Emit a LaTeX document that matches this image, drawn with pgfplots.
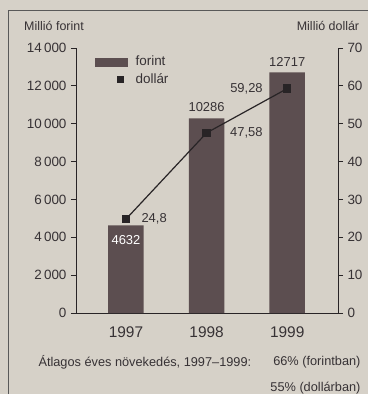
\documentclass[border=0pt]{standalone}
\usepackage{pgfplots}
\pgfplotsset{compat=1.18}
\usepackage{fontspec}
\setmainfont{Liberation Sans}
\definecolor{bgc}{RGB}{214,209,200}
\definecolor{barc}{RGB}{92,78,80}
\definecolor{textc}{RGB}{55,50,53}
\definecolor{linec}{RGB}{40,36,38}
\begin{document}
\begin{tikzpicture}[x=1bp,y=1bp]
\fill[bgc,use as bounding box] (-76,313) rectangle (292,-81);
\draw[gray!70!black,line width=0.8bp] (-68,303) -- (292,303);
\draw[gray!70!black,line width=0.8bp] (-68,303) -- (-68,-81);
\begin{axis}[
  scale only axis, width=262bp, height=265bp,
  at={(0,0)}, anchor=south west,
  xmin=-0.62, xmax=2.63, ymin=0, ymax=14000,
  axis y line*=left, axis x line*=bottom,
  axis line style={-, draw=linec, line width=0.8bp},
  ytick={0,2000,...,14000},
  yticklabels={0,2\,000,4\,000,6\,000,8\,000,10\,000,12\,000,14\,000},
  scaled y ticks=false,
  xtick={0,1,2}, xticklabels={1997,1998,1999},
  x tick style={draw=none},
  y tick style={draw=linec, line width=0.8bp},
  tick align=outside, major tick length=5bp,
  /pgf/number format/assume math mode=true,
  yticklabel style={font=\fontsize{13.5}{14}\selectfont, text=textc, xshift=-1bp},
  xticklabel style={font=\fontsize{15.5}{16}\selectfont, text=textc, yshift=-5bp},
  clip=false,
]
\addplot[ybar, bar width=35.5bp, fill=barc, draw=none] coordinates {(0,4632) (1,10286) (2,12717)};
\node[text=white, font=\fontsize{13}{14}\selectfont, yshift=-15bp] at (axis cs:0,4632) {4632};
\node[text=textc, font=\fontsize{13}{14}\selectfont, yshift=11bp] at (axis cs:1,10286) {10286};
\node[text=textc, font=\fontsize{13}{14}\selectfont, yshift=10bp] at (axis cs:2,12717) {12717};
\end{axis}
\begin{axis}[
  scale only axis, width=262bp, height=265bp,
  at={(0,0)}, anchor=south west,
  xmin=-0.62, xmax=2.63, ymin=0, ymax=70,
  axis y line*=right, axis x line=none,
  axis line style={-, draw=linec, line width=0.8bp},
  ytick={0,10,...,70},
  y tick style={draw=linec, line width=0.8bp},
  tick align=outside, major tick length=5bp,
  /pgf/number format/assume math mode=true,
  yticklabel style={font=\fontsize{13.5}{14}\selectfont, text=textc, xshift=1bp},
  clip=false,
  legend style={at={(19bp,259bp)}, anchor=north west, draw=none, fill=none,
    font=\fontsize{13.5}{14}\selectfont, text=textc, inner sep=0pt, row sep=2bp,
    legend cell align=left, /tikz/every odd column/.append style={column sep=6bp}},
]
\addlegendimage{legend image code/.code={\fill[barc] (0bp,-4bp) rectangle (32bp,4bp);}}
\addlegendentry{forint}
\addplot[linec, line width=1.2bp, mark=square*, mark size=3.5bp, mark options={fill=linec},
  legend image code/.code={\path[draw=none,fill=none] (0bp,0bp) rectangle (32bp,0.1bp); \fill[linec,draw=none] (22bp,-3.5bp) rectangle (29bp,3.5bp);}]
  coordinates {(0,24.8) (1,47.58) (2,59.28)};
\addlegendentry{dollár}
\node[text=textc, font=\fontsize{13}{14}\selectfont, anchor=west, xshift=12bp] at (axis cs:0,24.8) {24,8};
\node[text=textc, font=\fontsize{13}{14}\selectfont, anchor=west, xshift=20bp] at (axis cs:1,47.58) {47,58};
\node[text=textc, font=\fontsize{13}{14}\selectfont, anchor=east, xshift=-21bp] at (axis cs:2,59.28) {59,28};
\end{axis}
\node[text=textc, font=\fontsize{12.5}{14}\selectfont] at (-22,287) {Millió forint};
\node[text=textc, font=\fontsize{12.5}{14}\selectfont] at (252,287) {Millió dollár};
\node[text=textc, font=\fontsize{12.8}{14}\selectfont, anchor=west] at (-41,-49) {Átlagos éves növekedés, 1997–1999:};
\node[text=textc, font=\fontsize{12.8}{14}\selectfont, anchor=east] at (288,-49) {66\% (forintban)};
\node[text=textc, font=\fontsize{12.8}{14}\selectfont, anchor=east] at (288,-75) {55\% (dollárban)};
\end{tikzpicture}
\end{document}
